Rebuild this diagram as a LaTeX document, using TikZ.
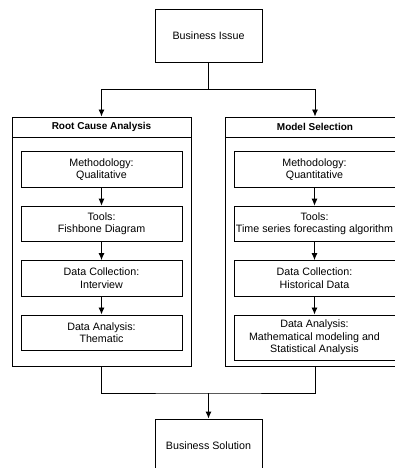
\documentclass[tikz,border=0pt]{standalone}
\usepackage{fontspec}
\setmainfont{Liberation Sans}
\usetikzlibrary{arrows.meta}
\usetikzlibrary{positioning}
\tikzset{
	box/.style={draw=black, rectangle, minimum width=107pt, minimum height=53pt},
	frame/.style={draw=black, rectangle, minimum width=179pt, minimum height=249pt},
	head/.style={draw=black, rectangle, minimum width=179pt, minimum height=20pt, font=\bfseries},
	inner/.style={draw=black, rectangle, minimum width=161pt, minimum height=35.5pt, align=center, inner sep=1pt}
}

\begin{document}
\begin{tikzpicture}[x=1pt, y=-1pt, line width=0.9pt, >={Latex[length=7pt, width=6pt]}, every node/.style={font=\fontsize{10.7}{12.4}\selectfont}]
	\useasboundingbox (0,0) rectangle (395,468);

	% --- top ---
	\node[box] (issue) at (208.5,35.5) {Business Issue};
	\coordinate (split) at (208.5,89);

	% --- root cause ---
	\node[frame] (rca) at (101.5,241.5) {};
	\node[head, anchor=north] (rcahead) at (rca.north) {Root Cause Analysis};
	\node[inner] (rca1) at (101.5,169.5) {Methodology:\\Qualitative};
	\node[inner, below=18pt of rca1] (rca2) {Tools:\\Fishbone Diagram};
	\node[inner, below=18pt of rca2] (rca3) {Data Collection:\\Interview};
	\node[inner, below=18pt of rca3] (rca4) {Data Analysis:\\Thematic};

	% --- model selection ---
	\node[frame] (msel) at (315,241.5) {};
	\node[head, anchor=north] (mselhead) at (msel.north) {Model Selection};
	\node[inner] (msel1) at (314.5,169.5) {Methodology:\\Quantitative};
	\node[inner, below=18pt of msel1] (msel2) {Tools:\\Time series forecasting algorithm};
	\node[inner, below=18pt of msel2] (msel3) {Data Collection:\\Historical Data};
	\node[inner, below=18pt of msel3, minimum height=45pt] (msel4) {Data Analysis:\\Mathematical modeling and\\Statistical Analysis};

	% --- bottom ---
	\coordinate (merge) at (208.5,393);
	\node[box] (sol) at (208.5,445.5) {Business Solution};

	\draw (issue) -- (split);
	\draw[->] (split) -| (rcahead);
	\draw[->] (split) -| (mselhead);

	\foreach \a/\b in {rca1/rca2, rca2/rca3, rca3/rca4, msel1/msel2, msel2/msel3, msel3/msel4}
		\draw[->] (\a) -- (\b);

	\draw (rca.south) |- (merge) -| (msel.south);
	\draw[->] (merge) -- (sol);

\end{tikzpicture}
\end{document}
